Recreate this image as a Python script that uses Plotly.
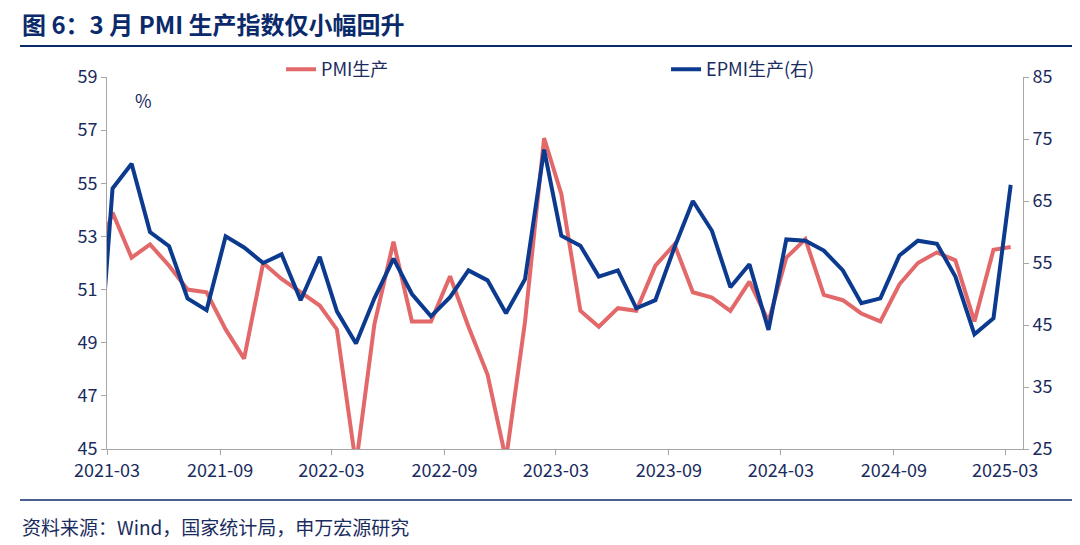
import pandas as pd
import plotly.graph_objects as go

months = pd.date_range("2021-02-01", "2025-03-01", freq="MS") + pd.Timedelta(days=9)

pmi_prod = [51.9, 53.9, 52.2, 52.7, 51.9, 51.0, 50.9, 49.5, 48.4, 52.0, 51.4,
            50.9, 50.4, 49.5, 44.4, 49.7, 52.8, 49.8, 49.8, 51.5, 49.6, 47.8, 44.6,
            49.8, 56.7, 54.6, 50.2, 49.6, 50.3, 50.2, 51.9, 52.7, 50.9, 50.7, 50.2,
            51.3, 49.8, 52.2, 52.9, 50.8, 50.6, 50.1, 49.8, 51.2, 52.0, 52.4, 52.1,
            49.8, 52.5, 52.6]
epmi_prod = [30.0, 67.0, 71.0, 60.0, 57.7, 49.3, 47.4, 59.3, 57.5, 55.0, 56.4,
             49.0, 56.0, 47.2, 42.0, 49.3, 55.7, 50.0, 46.4, 49.5, 53.8, 52.2, 46.9,
             52.4, 73.3, 59.4, 57.8, 52.8, 53.8, 47.7, 49.0, 57.5, 65.0, 60.2, 51.1,
             54.8, 44.2, 58.8, 58.6, 57.0, 53.8, 48.5, 49.3, 56.2, 58.6, 58.1, 52.8,
             43.5, 46.1, 67.6]

RED = "#E3686A"
BLUE = "#0B3A8F"
NAVY = "#1A2B5E"
FONT = "Noto Sans CJK SC"

fig = go.Figure()
fig.add_trace(go.Scatter(x=months, y=pmi_prod, name="PMI生产", mode="lines",
                         line=dict(color=RED, width=4)))
fig.add_trace(go.Scatter(x=months, y=epmi_prod, name="EPMI生产(右)", mode="lines",
                         line=dict(color=BLUE, width=4), yaxis="y2"))

axis_common = dict(showline=True, linecolor="#A6A6A6", linewidth=1, ticks="outside",
                   tickcolor="#A6A6A6", showgrid=False, zeroline=False, automargin=False,
                   tickfont=dict(family=FONT, size=18, color=NAVY))

fig.update_layout(
    width=1080, height=545, plot_bgcolor="white", paper_bgcolor="white",
    margin=dict(l=99, r=65, t=69, b=104),
    font=dict(family=FONT),
    xaxis=dict(axis_common, type="date", range=["2021-03-01", "2025-03-30"],
               tick0="2021-03-01", dtick="M6", tickformat="%Y-%m"),
    yaxis=dict(axis_common, range=[45, 59], tick0=45, dtick=2),
    yaxis2=dict(axis_common, range=[25, 85], tick0=25, dtick=10, overlaying="y", side="right"),
    legend=dict(orientation="h", x=0.19, y=1.02, xanchor="left", yanchor="middle",
                font=dict(family=FONT, size=18, color=NAVY), entrywidth=340,
                bgcolor="rgba(0,0,0,0)"),
    showlegend=True,
)

fig.add_annotation(text="%", xref="paper", yref="paper", x=0.028, y=0.979,
                   showarrow=False, font=dict(size=18, color=NAVY))
fig.add_annotation(text="<b>图 6：3 月 PMI 生产指数仅小幅回升</b>", xref="paper", yref="paper",
                   x=-0.095, y=1.145, xanchor="left", yanchor="middle", showarrow=False,
                   font=dict(size=24, color="#0B2A6B"))
fig.add_annotation(text="资料来源：Wind，国家统计局，申万宏源研究", xref="paper", yref="paper",
                   x=-0.095, y=-0.209, xanchor="left", yanchor="middle", showarrow=False,
                   font=dict(size=19, color=NAVY))
fig.add_shape(type="line", xref="paper", yref="paper", x0=-0.095, x1=1.06, y0=1.083, y1=1.083,
              line=dict(color="#0B2A6B", width=2))
fig.add_shape(type="line", xref="paper", yref="paper", x0=-0.095, x1=1.06, y0=-0.137, y1=-0.137,
              line=dict(color="#0B2A6B", width=1.5))

fig.write_html("out.html")
